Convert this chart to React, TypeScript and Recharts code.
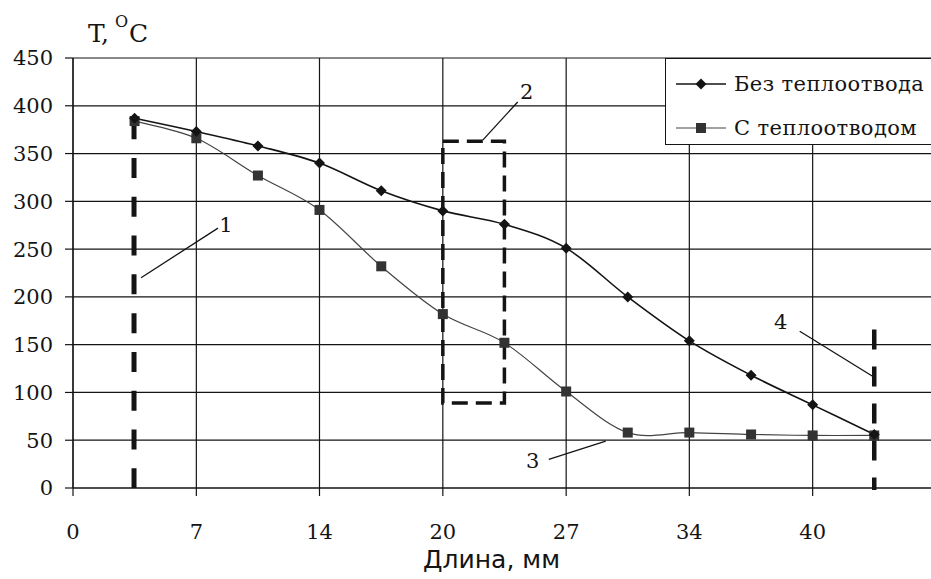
import React from "react";
import {
  LineChart,
  Line,
  XAxis,
  YAxis,
  CartesianGrid,
  Legend,
  ReferenceLine,
  ReferenceArea,
  ReferenceDot,
  Label,
} from "recharts";

// длина, мм (положения точек по оси)
const positions = [3.33, 6.67, 10, 13.33, 16.67, 20, 23.33, 26.67, 30, 33.33, 36.67, 40, 43.33];
// T, °C
const withoutSink = [387, 373, 358, 340, 311, 290, 276, 251, 200, 154, 118, 87, 56];
const withSink = [384, 366, 327, 291, 232, 182, 152, 101, 58, 58, 56, 55, 55];

const seriesNames = ["Без теплоотвода", "С теплоотводом"];

const xTicks = [0, 6.67, 13.33, 20, 26.67, 33.33, 40];
const xTickLabels = ["0", "7", "14", "20", "27", "34", "40"];
const yTicks = [0, 50, 100, 150, 200, 250, 300, 350, 400, 450];

// dashed zone marks (data coordinates)
const zoneLines = [
  { x: 3.3, top: 386, bottom: 0, width: 5, dash: "20 18.8" },
  { x: 43.33, top: 166, bottom: -2, width: 4.5, dash: "20 17" },
];
const zoneBox = { x1: 20, x2: 23.33, y1: 89, y2: 363 };

const callouts = [
  { label: "1", at: [8.27, 275], from: [7.84, 272], to: [3.68, 220] },
  { label: "2", at: [24.54, 414], from: [24.05, 404], to: [22.16, 364] },
  { label: "3", at: [24.86, 28], from: [25.73, 30], to: [28.81, 49] },
  { label: "4", at: [38.27, 174], from: [39.3, 164], to: [43.24, 117] },
];

const data = positions.map((x, i) => ({
  x,
  a: withoutSink[i],
  b: withSink[i],
}));

const serif = "'DejaVu Serif', 'Liberation Serif', serif";
const ink = "#141414";

// Excel-like smoothing (Catmull-Rom through the points)
const smoothCurve = (context: any) => {
  let pts: number[][] = [];
  return {
    areaStart() {},
    areaEnd() {},
    lineStart() {
      pts = [];
    },
    point(x: number, y: number) {
      pts.push([+x, +y]);
    },
    lineEnd() {
      const n = pts.length;
      if (!n) return;
      context.moveTo(pts[0][0], pts[0][1]);
      for (let i = 0; i < n - 1; i++) {
        const p0 = pts[Math.max(i - 1, 0)];
        const p1 = pts[i];
        const p2 = pts[i + 1];
        const p3 = pts[Math.min(i + 2, n - 1)];
        context.bezierCurveTo(
          p1[0] + (p2[0] - p0[0]) / 6,
          p1[1] + (p2[1] - p0[1]) / 6,
          p2[0] - (p3[0] - p1[0]) / 6,
          p2[1] - (p3[1] - p1[1]) / 6,
          p2[0],
          p2[1]
        );
      }
    },
  };
};

const Diamond = (props: any) => {
  const { cx, cy, index } = props;
  if (cx == null || cy == null) return <g key={`d${index}`} />;
  const r = 5.5;
  return (
    <path
      key={`d${index}`}
      d={`M${cx},${cy - r}L${cx + r},${cy}L${cx},${cy + r}L${cx - r},${cy}Z`}
      fill={ink}
    />
  );
};

const Square = (props: any) => {
  const { cx, cy, index } = props;
  if (cx == null || cy == null) return <g key={`s${index}`} />;
  const r = 5;
  return <rect key={`s${index}`} x={cx - r} y={cy - r} width={2 * r} height={2 * r} fill="#333" />;
};

const LegendBox = () => (
  <div
    style={{
      position: "relative",
      width: 290,
      height: 87,
      boxSizing: "border-box",
      border: `1px solid ${ink}`,
      background: "#fff",
      fontFamily: serif,
      fontSize: 21,
      letterSpacing: 0.4,
      color: ink,
    }}
  >
    {seriesNames.map((name, i) => (
      <div key={name} style={{ position: "absolute", left: 0, top: i === 0 ? 12 : 56, height: 26, whiteSpace: "nowrap" }}>
        <svg width={64} height={26} style={{ position: "absolute", left: 0, top: 0 }}>
          <line x1={10} y1={13} x2={60} y2={13} stroke={i === 0 ? ink : "#444"} strokeWidth={i === 0 ? 1.6 : 1.2} />
          {i === 0 ? <Diamond cx={35} cy={13} index={0} /> : <Square cx={35} cy={13} index={0} />}
        </svg>
        <span style={{ position: "absolute", left: 68, top: 0, lineHeight: "26px" }}>{name}</span>
      </div>
    ))}
  </div>
);

const CalloutText = (label: string) => (props: any) => (
  <text
    x={props.cx}
    y={props.cy}
    textAnchor="middle"
    dominantBaseline="central"
    fontFamily={serif}
    fontSize={21}
    fill={ink}
  >
    {label}
  </text>
);

export default function App() {
  return (
    <div
      style={{
        position: "absolute",
        left: 0,
        top: 0,
        width: 931,
        height: 579,
        overflow: "hidden",
        background: "#fff",
      }}
    >
      <LineChart width={980} height={579} data={data} margin={{ top: 58, right: 44, bottom: 0, left: 0 }}>
        <CartesianGrid stroke={ink} strokeWidth={1.2} />
        <XAxis
          dataKey="x"
          type="number"
          domain={[0, 46.67]}
          ticks={xTicks}
          tickFormatter={(_v: number, i: number) => xTickLabels[i]}
          allowDataOverflow
          height={91}
          stroke={ink}
          strokeWidth={1.2}
          tickSize={8}
          tickMargin={28}
          tick={{ fill: ink, fontFamily: serif, fontSize: 21 }}
        >
          <Label
            value="Длина, мм"
            position="insideBottom"
            offset={11}
            dx={-13}
            style={{ fontFamily: "'DejaVu Sans', 'Liberation Sans', sans-serif", fontSize: 25, fill: ink }}
          />
        </XAxis>
        <YAxis
          type="number"
          domain={[0, 450]}
          ticks={yTicks}
          width={73}
          stroke={ink}
          strokeWidth={1.2}
          tickSize={8}
          tickMargin={12}
          tick={{ fill: ink, fontFamily: serif, fontSize: 21 }}
        >
          <Label
            content={(p: any) => {
              const vb = p.viewBox || { x: 0, y: 58 };
              return (
                <text x={vb.x + 88} y={vb.y - 16} fontFamily={serif} fontSize={25} fill={ink}>
                  T,
                  <tspan dx={6} dy={-15} fontSize={16}>
                    O
                  </tspan>
                  <tspan dx={1} dy={15}>
                    C
                  </tspan>
                </text>
              );
            }}
          />
        </YAxis>
        <Legend
          layout="vertical"
          align="center"
          verticalAlign="middle"
          wrapperStyle={{ top: 58, left: 665, width: 290 }}
          content={() => <LegendBox />}
        />

        {zoneLines.map((z, i) => (
          <ReferenceLine
            key={`z${i}`}
            segment={[
              { x: z.x, y: z.top },
              { x: z.x, y: z.bottom },
            ]}
            stroke={ink}
            strokeWidth={z.width}
            strokeDasharray={z.dash}
            ifOverflow="visible"
          />
        ))}
        <ReferenceArea
          x1={zoneBox.x1}
          x2={zoneBox.x2}
          y1={zoneBox.y1}
          y2={zoneBox.y2}
          fill="none"
          fillOpacity={0}
          stroke={ink}
          strokeWidth={3.5}
          strokeDasharray="16 8"
        />
        {callouts.map((c) => (
          <ReferenceLine
            key={`l${c.label}`}
            segment={[
              { x: c.from[0], y: c.from[1] },
              { x: c.to[0], y: c.to[1] },
            ]}
            stroke={ink}
            strokeWidth={1.3}
          />
        ))}
        {callouts.map((c) => (
          <ReferenceDot key={`t${c.label}`} x={c.at[0]} y={c.at[1]} r={0} shape={CalloutText(c.label)} />
        ))}

        <Line
          dataKey="b"
          name={seriesNames[1]}
          type={smoothCurve as any}
          stroke="#444"
          strokeWidth={1.2}
          dot={Square}
          activeDot={false}
          isAnimationActive={false}
        />
        <Line
          dataKey="a"
          name={seriesNames[0]}
          type={smoothCurve as any}
          stroke={ink}
          strokeWidth={1.6}
          dot={Diamond}
          activeDot={false}
          isAnimationActive={false}
        />
      </LineChart>
    </div>
  );
}
